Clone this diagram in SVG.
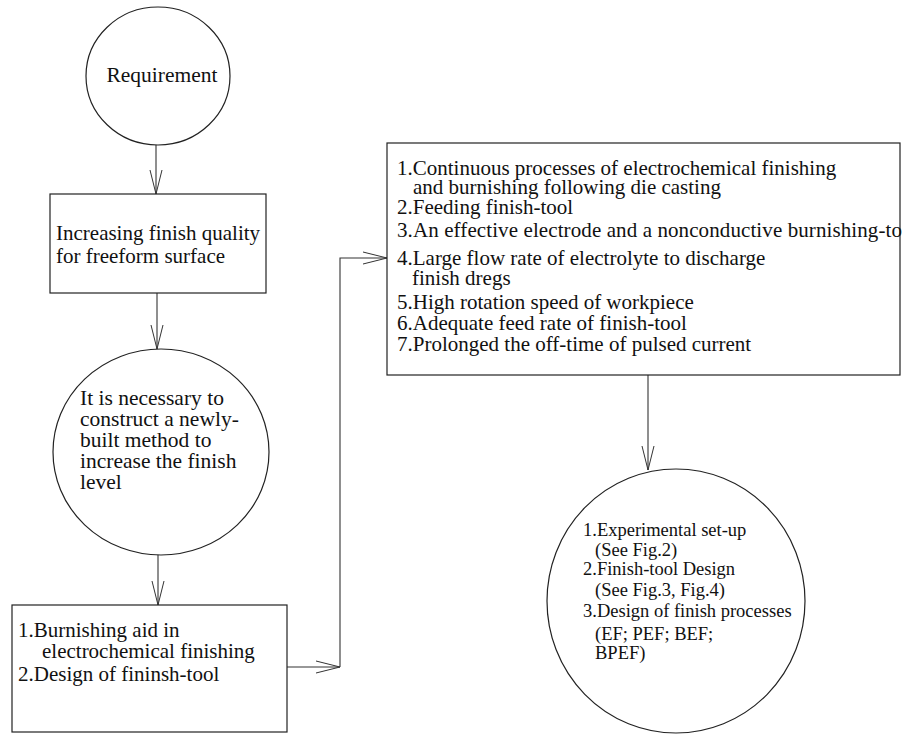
<svg xmlns="http://www.w3.org/2000/svg" width="922" height="745" viewBox="0 0 922 745">
<style>
.shape{fill:#fff;stroke:#222;stroke-width:1.2}
.t{font-family:"Liberation Serif","Times New Roman",serif;font-size:21px;fill:#111}
.s{font-size:18.5px}
.c{stroke:#333;stroke-width:1.1;fill:none}
</style>
<defs>
<marker id="v" viewBox="0 0 24 14" refX="24" refY="7" markerWidth="24" markerHeight="14" markerUnits="userSpaceOnUse" orient="auto">
<path d="M0,1 L24,7 L0,13" fill="none" stroke="#333" stroke-width="1"/>
</marker>
</defs>
<rect width="922" height="745" fill="#fff"/>
<g id="connectors">
<path class="c" d="M156,145 L156,194" marker-end="url(#v)"/>
<path class="c" d="M157,293 L157,349" marker-end="url(#v)"/>
<path class="c" d="M158,554 L158,605" marker-end="url(#v)"/>
<path class="c" d="M287,667 L340,667" marker-end="url(#v)"/>
<path class="c" d="M340,667 L340,258 L387,258" marker-end="url(#v)"/>
<path class="c" d="M648,375 L648,470" marker-end="url(#v)"/>
</g>
<g id="requirement">
<ellipse class="shape" cx="158" cy="76" rx="72" ry="69"/>
<text class="t" x="162" y="82" text-anchor="middle" style="font-size:21.5px">Requirement</text>
</g>
<g id="increasing">
<rect class="shape" x="50" y="194" width="216" height="99"/>
<text class="t" x="56" y="240">Increasing finish quality</text>
<text class="t" x="56" y="263">for freeform surface</text>
</g>
<g id="necessary">
<ellipse class="shape" cx="161" cy="452" rx="108" ry="103"/>
<text class="t" style="font-size:21.5px" x="80" y="405">It is necessary to</text>
<text class="t" style="font-size:21.5px" x="80" y="426">construct a newly-</text>
<text class="t" style="font-size:21.5px" x="80" y="447">built method to</text>
<text class="t" style="font-size:21.5px" x="80" y="468">increase the finish</text>
<text class="t" style="font-size:21.5px" x="80" y="489">level</text>
</g>
<g id="burnishing">
<rect class="shape" x="12" y="605" width="275" height="127"/>
<text class="t" x="18" y="637">1.Burnishing aid in</text>
<text class="t" x="42" y="658">electrochemical finishing</text>
<text class="t" x="18" y="681">2.Design of fininsh-tool</text>
</g>
<g id="processes">
<rect class="shape" x="387" y="143" width="513" height="232"/>
<text class="t" x="397" y="175">1.Continuous processes of electrochemical finishing</text>
<text class="t" x="413" y="194">and burnishing following die casting</text>
<text class="t" x="397" y="214">2.Feeding finish-tool</text>
<text class="t" x="397" y="237" textLength="505" lengthAdjust="spacing">3.An effective electrode and a nonconductive burnishing-to</text>
<text class="t" x="397" y="265">4.Large flow rate of electrolyte to discharge</text>
<text class="t" x="412" y="285">finish dregs</text>
<text class="t" x="397" y="309">5.High rotation speed of workpiece</text>
<text class="t" x="397" y="330">6.Adequate feed rate of finish-tool</text>
<text class="t" x="397" y="351">7.Prolonged the off-time of pulsed current</text>
</g>
<g id="experimental">
<ellipse class="shape" cx="676" cy="601" rx="129" ry="132"/>
<text class="t s" x="583" y="536">1.Experimental set-up</text>
<text class="t s" x="595" y="556">(See Fig.2)</text>
<text class="t s" x="583" y="575">2.Finish-tool Design</text>
<text class="t s" x="595" y="596">(See Fig.3, Fig.4)</text>
<text class="t s" x="583" y="617">3.Design of finish processes</text>
<text class="t s" x="595" y="640">(EF; PEF; BEF;</text>
<text class="t s" x="595" y="659">BPEF)</text>
</g>
</svg>
